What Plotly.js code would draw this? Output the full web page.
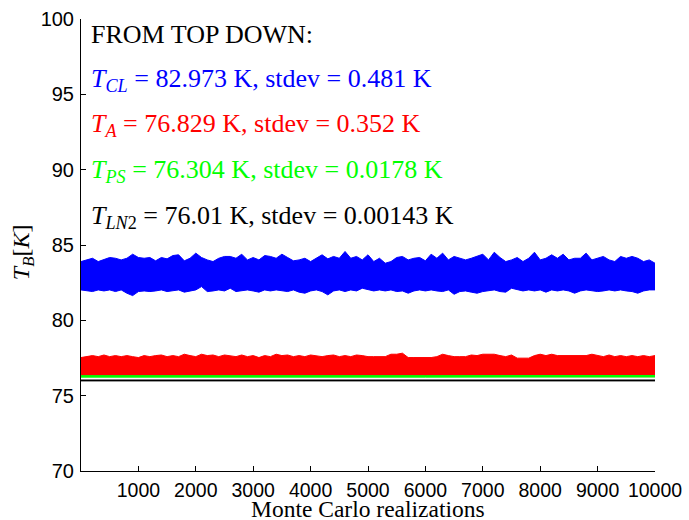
<!DOCTYPE html>
<html>
<head>
<meta charset="utf-8">
<script src="https://cdn.plot.ly/plotly-3.0.1.min.js"></script>
<style>html,body{margin:0;padding:0;background:#fff;}#chart{width:689px;height:520px;}</style>
</head>
<body>
<div id="chart"></div>
<script>
// Monte Carlo realization index (sampled envelope grid, every 100 realizations)
const realization = [0,100,200,300,400,500,600,700,800,900,1000,1100,1200,1300,1400,1500,1600,1700,1800,1900,2000,2100,2200,2300,2400,2500,2600,2700,2800,2900,3000,3100,3200,3300,3400,3500,3600,3700,3800,3900,4000,4100,4200,4300,4400,4500,4600,4700,4800,4900,5000,5100,5200,5300,5400,5500,5600,5700,5800,5900,6000,6100,6200,6300,6400,6500,6600,6700,6800,6900,7000,7100,7200,7300,7400,7500,7600,7700,7800,7900,8000,8100,8200,8300,8400,8500,8600,8700,8800,8900,9000,9100,9200,9300,9400,9500,9600,9700,9800,9900,10000];

// T_CL envelope (upper / lower edge of the noisy band), K
const tclHigh = [83.90,84.01,84.12,83.90,84.01,84.17,84.12,84.01,84.12,84.39,84.17,84.12,84.17,83.95,84.17,84.08,84.30,84.35,83.95,84.12,84.46,84.17,84.01,83.90,84.12,84.24,
84.24,84.12,84.39,84.01,84.17,84.01,84.30,84.24,84.12,84.39,84.17,83.95,84.01,84.12,83.90,84.12,84.35,84.08,84.24,84.12,84.57,84.12,84.24,84.01,84.35,
83.90,84.12,83.79,83.90,84.17,84.24,84.01,84.12,84.17,83.95,84.39,84.12,84.46,84.01,84.24,84.12,84.01,84.12,84.24,84.39,84.01,84.52,84.17,83.90,84.01,
84.17,83.90,84.12,84.52,84.01,84.12,84.35,84.12,84.39,84.01,84.12,84.12,84.46,84.01,84.12,84.24,84.01,83.90,84.24,84.12,84.24,84.12,83.90,84.01,83.79];
const tclLow = [82.02,81.95,81.91,82.02,81.95,82.02,81.91,82.02,81.80,81.64,81.91,81.95,81.91,81.95,82.02,81.91,81.95,82.02,81.87,81.95,82.02,82.24,81.91,81.95,82.02,81.95,
82.13,81.91,81.95,82.02,81.95,81.87,82.02,81.95,82.02,81.95,81.91,82.02,81.87,81.80,81.95,82.02,81.91,81.69,81.95,82.02,81.91,82.02,81.95,82.13,82.02,
81.95,82.02,81.95,82.02,81.91,81.95,81.80,81.95,82.02,81.95,82.02,81.95,81.91,82.02,81.73,81.91,81.95,81.87,81.80,81.91,81.95,82.02,81.91,81.87,82.13,
82.02,81.95,82.02,81.95,82.02,81.87,82.02,81.95,82.02,81.95,81.80,81.95,82.02,81.95,81.91,81.95,82.02,81.95,82.02,81.95,81.91,81.80,81.95,82.02,82.02];

// T_A envelope, K
const taHigh = [77.53,77.59,77.66,77.59,77.70,77.59,77.66,77.59,77.66,77.59,77.53,77.66,77.59,77.66,77.70,77.59,77.66,77.59,77.75,77.66,77.59,77.75,77.66,77.70,77.59,77.70,
77.66,77.59,77.70,77.59,77.66,77.53,77.66,77.59,77.75,77.66,77.70,77.59,77.66,77.59,77.70,77.66,77.59,77.66,77.70,77.59,77.66,77.59,77.70,77.66,77.59,
77.59,77.59,77.59,77.75,77.75,77.82,77.53,77.53,77.53,77.53,77.53,77.59,77.75,77.66,77.59,77.59,77.59,77.70,77.66,77.75,77.75,77.75,77.66,77.59,77.70,
77.49,77.49,77.49,77.66,77.75,77.66,77.75,77.66,77.66,77.66,77.66,77.70,77.66,77.75,77.66,77.59,77.70,77.59,77.66,77.59,77.66,77.59,77.66,77.59,77.66];

// coarse grid for the narrow bands
const realizationCoarse = [0,1000,2000,3000,4000,5000,6000,7000,8000,9000,10000];
const taLow   = [76.27,76.26,76.27,76.27,76.26,76.27,76.27,76.26,76.27,76.27,76.26];
const tpsHigh = [76.33,76.34,76.33,76.33,76.34,76.33,76.33,76.34,76.33,76.33,76.34];
const tpsLow  = [76.23,76.24,76.23,76.23,76.24,76.23,76.23,76.24,76.23,76.23,76.24];
const tln2High = [76.040,76.040,76.040,76.040,76.040,76.040,76.040,76.040,76.040,76.040,76.040];
const tln2Low  = [75.980,75.980,75.980,75.980,75.980,75.980,75.980,75.980,75.980,75.980,75.980];

const xTicks = [1000,2000,3000,4000,5000,6000,7000,8000,9000,10000];
const yTicks = [70,75,80,85,90,95,100];

const labels = [
  {text:'FROM TOP DOWN:', color:'#000000'},
  {text:'<i>T</i><sub><i>CL</i></sub> = 82.973 K, stdev = 0.481 K', color:'#0000FF'},
  {text:'<i>T</i><sub><i>A</i></sub> = 76.829 K, stdev = 0.352 K', color:'#FF0000'},
  {text:'<i>T</i><sub><i>PS</i></sub> = 76.304 K, stdev = 0.0178 K', color:'#00FF00'},
  {text:'<i>T</i><sub><i>LN</i>2</sub> = 76.01 K, stdev = 0.00143 K', color:'#000000'}
];
const labelY = [0.966, 0.866, 0.765, 0.664, 0.563];

function band(x, hi, lo, color) {
  return [
    {x:x.hi||x, y:hi, type:'scatter', mode:'lines', line:{color:color, width:1}, hoverinfo:'skip', showlegend:false},
    {x:x.lo||x, y:lo, type:'scatter', mode:'lines', line:{color:color, width:1}, fill:'tonexty', fillcolor:color, hoverinfo:'skip', showlegend:false}
  ];
}

const traces = []
  .concat(band(realization, tclHigh, tclLow, '#0000FF'))
  .concat(band({hi:realization, lo:realizationCoarse}, taHigh, taLow, '#FF0000'))
  .concat(band(realizationCoarse, tpsHigh, tpsLow, '#00FF00'))
  .concat(band(realizationCoarse, tln2High, tln2Low, '#000000'));

const serif = 'Liberation Serif, Times New Roman, serif';
const sans = 'Liberation Sans, Arial, Helvetica, sans-serif';

const layout = {
  width:689, height:520,
  margin:{l:81, r:34, t:19, b:49},
  paper_bgcolor:'#ffffff', plot_bgcolor:'#ffffff',
  showlegend:false,
  xaxis:{
    range:[0,10000], tickvals:xTicks, ticktext:xTicks.map(String),
    ticks:'inside', ticklen:5, tickwidth:1, tickcolor:'#000',
    showline:true, linecolor:'#000', linewidth:1, mirror:false,
    showgrid:false, zeroline:false,
    tickfont:{family:sans, size:19.5, color:'#000'},
    ticklabelstandoff:2,
    automargin:false
  },
  yaxis:{
    range:[70,100], tickvals:yTicks, ticktext:yTicks.map(String),
    ticks:'inside', ticklen:5, tickwidth:1, tickcolor:'#000',
    showline:true, linecolor:'#000', linewidth:1, mirror:false,
    showgrid:false, zeroline:false,
    tickfont:{family:sans, size:20, color:'#000'},
    ticklabelstandoff:2,
    automargin:false
  },
  annotations: labels.map((l,i)=>({
    xref:'paper', yref:'paper', x:0.0145, y:labelY[i], xanchor:'left', yanchor:'middle',
    text:l.text, showarrow:false, font:{family:serif, size:26, color:l.color}
  })).concat([{
    xref:'paper', yref:'paper', x:-0.102, y:0.485, xanchor:'center', yanchor:'middle',
    text:'<i>T</i><sub><i>B</i></sub>[<i>K</i>]', textangle:-90, showarrow:false,
    font:{family:serif, size:24, color:'#000'}
  }, {
    xref:'paper', yref:'paper', x:0.5, y:-0.083, xanchor:'center', yanchor:'middle',
    text:'Monte Carlo realizations', showarrow:false,
    font:{family:serif, size:23.5, color:'#000'}
  }])
};

Plotly.newPlot('chart', traces, layout, {staticPlot:true, displayModeBar:false});
</script>
</body>
</html>
